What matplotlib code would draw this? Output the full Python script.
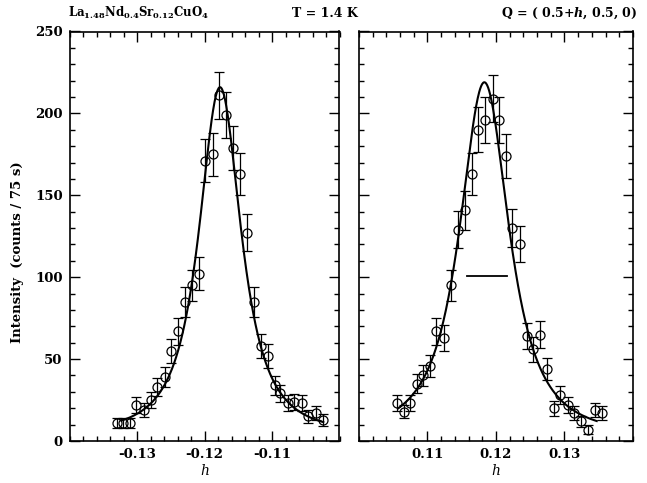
import numpy as np
import matplotlib
matplotlib.use("Agg")
import matplotlib.pyplot as plt
from matplotlib.ticker import MultipleLocator

plt.rcParams['font.family'] = 'DejaVu Serif'
plt.rcParams['font.weight'] = 'bold'
plt.rcParams['mathtext.fontset'] = 'dejavuserif'
plt.rcParams['axes.unicode_minus'] = False

# left scan, h < 0
h_left = [-0.1330, -0.1321, -0.1311, -0.1301, -0.1290, -0.1280, -0.1270, -0.1259,
          -0.1249, -0.1239, -0.1229, -0.1218, -0.1208, -0.1199, -0.1188, -0.1178,
          -0.1168, -0.1158, -0.1147, -0.1137, -0.1126, -0.1117, -0.1106, -0.1096,
          -0.1088, -0.1077, -0.1067, -0.1055, -0.1046, -0.1035, -0.1024]
I_left = [11, 11, 11, 22, 19, 25, 33, 39, 55, 67, 85, 95, 102, 171, 175, 211,
          199, 179, 163, 127, 85, 58, 52, 34, 29, 23, 24, 23, 15, 17, 13]
err_left = [3.3, 3.3, 3.3, 4.7, 4.4, 5.0, 5.7, 6.2, 7.4, 8.2, 9.2, 9.7, 10.1, 13.1,
            13.2, 14.5, 14.1, 13.4, 12.8, 11.3, 9.2, 7.6, 7.2, 5.8, 5.4, 4.8, 4.9,
            4.8, 3.9, 4.1, 3.6]

# right scan, h > 0
h_right = [0.1055, 0.1065, 0.1074, 0.1084, 0.1094, 0.1104, 0.1113, 0.1124, 0.1134,
           0.1145, 0.1155, 0.1165, 0.1174, 0.1184, 0.1195, 0.1205, 0.1215, 0.1224,
           0.1235, 0.1245, 0.1254, 0.1264, 0.1275, 0.1284, 0.1294, 0.1305, 0.1314,
           0.1324, 0.1335, 0.1345, 0.1355]
I_right = [23, 18, 23, 35, 40, 46, 67, 63, 95, 129, 141, 163, 190, 196, 209, 196,
           174, 130, 120, 64, 56, 65, 44, 20, 28, 22, 17, 12, 7, 19, 17]
err_right = [4.8, 4.2, 4.8, 5.9, 6.3, 6.8, 8.2, 7.9, 9.7, 11.4, 11.9, 12.8, 13.8,
             14.0, 14.5, 14.0, 13.2, 11.4, 11.0, 8.0, 7.5, 8.1, 6.6, 4.5, 5.3, 4.7,
             4.1, 3.5, 2.6, 4.4, 4.1]

# fitted peak parameters: amplitude, centre, width, background, range
fit_left = dict(amp=212, cen=-0.1177, wid=0.00441, bg=4, lo=-0.1323, hi=-0.1024)
fit_right = dict(amp=216, cen=0.1183, wid=0.0051, bg=3, lo=0.1057, hi=0.1347)
fit_power = 1.3

# instrumental resolution bar
res_h = [0.1157, 0.1216]
res_I = [100.5, 100.5]


def peak(p):
    x = np.linspace(p['lo'], p['hi'], 400)
    y = p['bg'] + p['amp'] / (1 + ((x - p['cen']) / p['wid']) ** 2) ** fit_power
    return x, y


fig = plt.figure(figsize=(6.47, 4.83), dpi=100)
bot = 1 - 441 / 483
hgt = 409.5 / 483
ax1 = fig.add_axes([69.5 / 647, bot, 270 / 647, hgt])
ax2 = fig.add_axes([359 / 647, bot, 274 / 647, hgt])

for ax, h, I, e, p in [(ax1, h_left, I_left, err_left, fit_left),
                       (ax2, h_right, I_right, err_right, fit_right)]:
    x, y = peak(p)
    ax.plot(x, y, color='black', lw=1.5, zorder=3)
    ax.errorbar(h, I, yerr=e, fmt='o', ms=6.5, mfc='none', mec='black', mew=0.9,
                ecolor='black', elinewidth=0.9, capsize=3.5, capthick=0.9, zorder=4)
    ax.set_ylim(0, 250)
    ax.yaxis.set_major_locator(MultipleLocator(50))
    ax.yaxis.set_minor_locator(MultipleLocator(10))
    ax.xaxis.set_major_locator(MultipleLocator(0.01))
    ax.xaxis.set_minor_locator(MultipleLocator(0.002))
    ax.tick_params(which='both', direction='in', top=True, right=True, width=1.0,
                   labelsize=9.5, pad=5)
    ax.tick_params(which='major', length=7)
    ax.tick_params(which='minor', length=3.5)
    for s in ax.spines.values():
        s.set_linewidth(1.2)
    ax.set_xlabel('h', fontstyle='italic', fontsize=10, labelpad=2)

ax1.set_xlim(-0.14, -0.10)
ax2.set_xlim(0.10, 0.14)
ax1.set_xticks([-0.13, -0.12, -0.11])
ax1.set_xticklabels(['-0.13', '-0.12', '-0.11'])
ax2.set_xticks([0.11, 0.12, 0.13])
ax2.set_xticklabels(['0.11', '0.12', '0.13'])
ax2.tick_params(labelleft=False)

ax2.plot(res_h, res_I, color='black', lw=1.3)

fig.text(18 / 647, 1 - 252 / 483, 'Intensity  (counts / 75 s)', rotation=90,
         ha='center', va='center', fontsize=9.5)

fig.text(68 / 647, 1 - 17 / 483,
         r'La$_{\mathbf{1.48}}$Nd$_{\mathbf{0.4}}$Sr$_{\mathbf{0.12}}$CuO$_{\mathbf{4}}$',
         ha='left', va='baseline', fontsize=8.5)
fig.text(325 / 647, 1 - 17 / 483, 'T = 1.4 K', ha='center', va='baseline', fontsize=9)
fig.text(637 / 647, 1 - 17 / 483, r'Q = ( 0.5+$\it{h}$, 0.5, 0)', ha='right',
         va='baseline', fontsize=9)

fig.savefig('out.png', dpi=100)
